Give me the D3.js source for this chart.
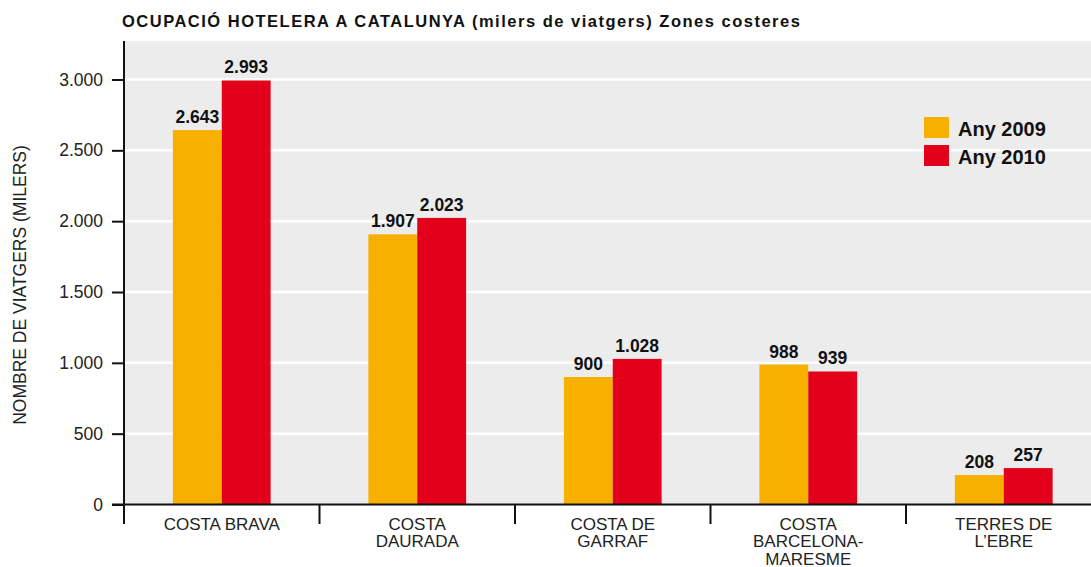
<!DOCTYPE html>
<html>
<head>
<meta charset="utf-8">
<script src="https://cdn.jsdelivr.net/npm/d3@7"></script>
<style>
  body { margin: 0; background: #fff; }
  svg { display: block; font-family: "Liberation Sans", Arial, sans-serif; }
</style>
</head>
<body>
<svg id="chart" width="1091" height="567"></svg>
<script>
// ── Data ──
const categories = ['COSTA BRAVA', 'COSTA DAURADA', 'COSTA DE GARRAF', 'COSTA BARCELONA-MARESME', "TERRES DE L'EBRE"];
const categoryLines = [['COSTA BRAVA'], ['COSTA', 'DAURADA'], ['COSTA DE', 'GARRAF'], ['COSTA', 'BARCELONA-', 'MARESME'], ['TERRES DE', 'L\u2019EBRE']];
const seriesNames = ['Any 2009', 'Any 2010'];
const values2009 = [2643, 1907, 900, 988, 208];
const values2010 = [2993, 2023, 1028, 939, 257];
const yTicks = [0, 500, 1000, 1500, 2000, 2500, 3000];

const colors = { 'Any 2009': '#f8b000', 'Any 2010': '#e2001a' };

const svg = d3.select('#chart');
const plotLeft = 124, plotTop = 41, baseY = 504.5;

const fmt = d3.formatLocale({ decimal: ',', thousands: '.', grouping: [3], currency: ['', '€'] }).format(',d');

const x = d3.scaleBand().domain(categories).range([plotLeft, plotLeft + 5 * 195.5]);
const xSub = d3.scaleBand().domain(seriesNames).range([x.bandwidth() * 0.25, x.bandwidth() * 0.75]);
const y = d3.scaleLinear().domain([0, 3000]).range([baseY, 79.5]);

// ── Title ──
svg.append('text')
  .attr('x', 122).attr('y', 27)
  .attr('font-size', '16.5px').attr('font-weight', 'bold').attr('letter-spacing', '1.5px')
  .attr('fill', '#111')
  .text('OCUPACIÓ HOTELERA A CATALUNYA (milers de viatgers) Zones costeres');

// Plot background
svg.append('rect')
  .attr('x', plotLeft).attr('y', plotTop).attr('width', 1091 - plotLeft).attr('height', baseY - plotTop)
  .attr('fill', '#ebeceb');

// Gridlines
svg.append('g').selectAll('line').data(yTicks.filter(d => d > 0)).join('line')
  .attr('x1', plotLeft).attr('x2', 1091)
  .attr('y1', d => y(d)).attr('y2', d => y(d))
  .attr('stroke', '#fff').attr('stroke-width', 2.5);

// ── Bars ──
const rows = categories.map((c, i) => ({ cat: c, vals: [
  { name: 'Any 2009', value: values2009[i] },
  { name: 'Any 2010', value: values2010[i] }
] }));

const groups = svg.append('g').selectAll('g').data(rows).join('g')
  .attr('transform', d => 'translate(' + x(d.cat) + ',0)');

groups.selectAll('rect').data(d => d.vals).join('rect')
  .attr('x', d => xSub(d.name)).attr('width', xSub.bandwidth())
  .attr('y', d => y(d.value)).attr('height', d => baseY - y(d.value))
  .attr('fill', d => colors[d.name]);

groups.selectAll('text').data(d => d.vals).join('text')
  .attr('x', d => xSub(d.name) + xSub.bandwidth() / 2)
  .attr('y', d => y(d.value) - 7)
  .attr('text-anchor', 'middle')
  .attr('font-size', '17.5px').attr('font-weight', 'bold').attr('fill', '#111')
  .text(d => fmt(d.value));

// ── Y axis ──
const yAxis = svg.append('g')
  .attr('transform', 'translate(' + plotLeft + ',0)')
  .call(d3.axisLeft(y).tickValues(yTicks).tickFormat(fmt).tickSize(12).tickPadding(9).tickSizeOuter(0));
yAxis.select('.domain').remove();
yAxis.selectAll('.tick line').attr('stroke', '#111').attr('stroke-width', 2);
yAxis.selectAll('.tick text').attr('font-size', '17.5px').attr('fill', '#222')
  .attr('font-family', '"Liberation Sans", Arial, sans-serif');

svg.append('line')
  .attr('x1', plotLeft).attr('x2', plotLeft).attr('y1', plotTop).attr('y2', 524)
  .attr('stroke', '#111').attr('stroke-width', 2);

// Baseline
svg.append('line')
  .attr('x1', 112).attr('x2', 1091).attr('y1', baseY).attr('y2', baseY)
  .attr('stroke', '#111').attr('stroke-width', 2);

// Category separators
svg.append('g').selectAll('line').data(categories.slice(1)).join('line')
  .attr('x1', d => x(d)).attr('x2', d => x(d))
  .attr('y1', baseY).attr('y2', 524)
  .attr('stroke', '#111').attr('stroke-width', 2);

// Category labels
const labels = svg.append('g').selectAll('text').data(categories).join('text')
  .attr('x', d => x(d) + x.bandwidth() / 2)
  .attr('y', 529.5)
  .attr('text-anchor', 'middle')
  .attr('font-size', '17px').attr('fill', '#222');
labels.selectAll('tspan').data((d, i) => categoryLines[i]).join('tspan')
  .attr('x', function() { return this.parentNode.getAttribute('x'); })
  .attr('dy', (d, i) => i === 0 ? 0 : 17.6)
  .text(d => d);

// Y axis title
svg.append('text')
  .attr('transform', 'translate(26,285) rotate(-90)')
  .attr('text-anchor', 'middle')
  .attr('font-size', '17.5px').attr('fill', '#222')
  .text('NOMBRE DE VIATGERS (MILERS)');

// ── Legend ──
const legend = svg.append('g').selectAll('g').data(seriesNames).join('g')
  .attr('transform', (d, i) => 'translate(924,' + (117 + i * 28) + ')');
legend.append('rect')
  .attr('width', 25).attr('height', 21)
  .attr('fill', d => colors[d]);
legend.append('text')
  .attr('x', 34).attr('y', 19)
  .attr('font-size', '20px').attr('font-weight', 'bold').attr('fill', '#111')
  .text(d => d);
</script>
</body>
</html>
